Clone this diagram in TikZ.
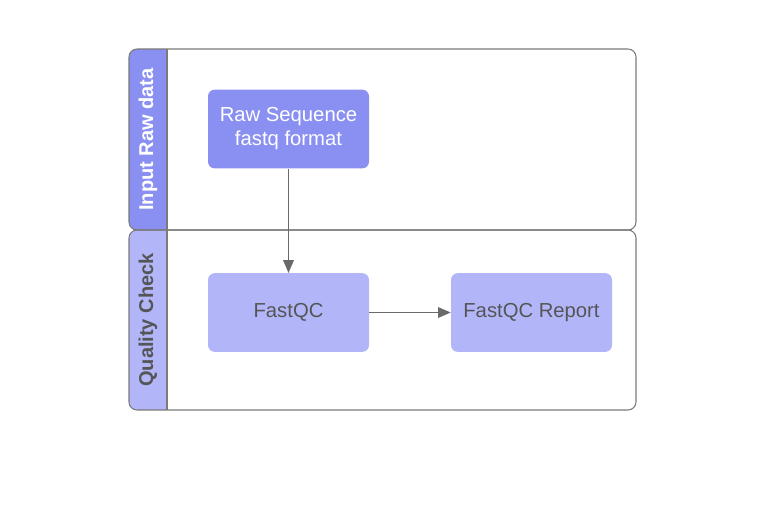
\documentclass[tikz,border=0pt]{standalone}
\usepackage{fontspec}
\setmainfont{Liberation Sans}
\usetikzlibrary{arrows.meta}

\definecolor{laneline}{HTML}{7A7A7A}
\definecolor{darkhead}{HTML}{8A90F2}
\definecolor{lighthead}{HTML}{B2B6F9}
\definecolor{textgray}{HTML}{555555}
\definecolor{arrowgray}{HTML}{6A6A6A}

\begin{document}
\begin{tikzpicture}[x=0.75pt,y=-0.75pt,
    lane/.style={draw=laneline,line width=0.8pt,rounded corners=6pt},
    head/.style={rotate=90,font=\fontsize{15}{18}\selectfont\bfseries},
    box/.style={rounded corners=5pt,minimum width=120.75pt,minimum height=59pt,
      align=center,font=\fontsize{15.2}{18}\selectfont},
    link/.style={draw=arrowgray,line width=0.6pt,-{Triangle[length=9.5pt,width=8pt]}}]
        \useasboundingbox (0,0) rectangle (776,508);

        % lane headers
        \begin{scope}
          \clip[rounded corners=6pt] (129,49) rectangle (636,230);
          \fill[darkhead] (129,49) rectangle (167,230);
        \end{scope}
        \begin{scope}
          \clip[rounded corners=6pt] (129,230) rectangle (636,410);
          \fill[lighthead] (129,230) rectangle (167,410);
        \end{scope}

        \draw[lane] (129,49) rectangle (636,230);
        \draw[lane] (129,230) rectangle (636,410);
        \draw[laneline,line width=0.8pt] (167,49) -- (167,410);

        \node[head,text=white] (input) at (148,139.5) {Input Raw data};
        \node[head,text=textgray] (qc) at (148,320) {Quality Check};

        % steps
        \node[box,fill=darkhead,text=white] (raw) at (288.5,129) {Raw Sequence\\fastq format};
        \node[box,fill=lighthead,text=textgray] (fastqc) at (288.5,312.5) {FastQC};
        \node[box,fill=lighthead,text=textgray] (report) at (531.5,312.5) {FastQC Report};

        \draw[link] (raw) -- (fastqc);
        \draw[link] (fastqc) -- (report);
      \end{tikzpicture}
\end{document}
